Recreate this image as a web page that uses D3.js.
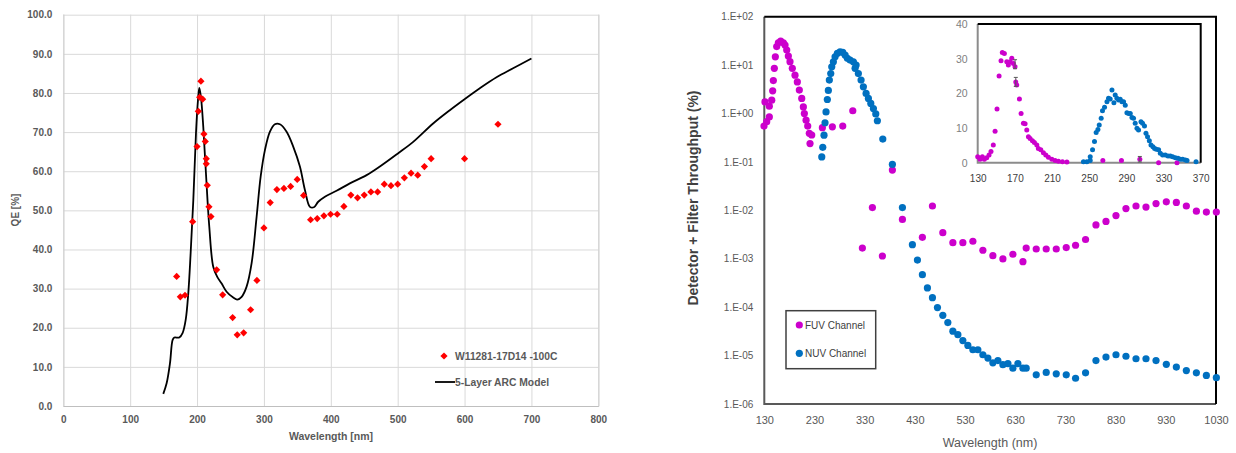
<!DOCTYPE html>
<html>
<head>
<meta charset="utf-8">
<script src="https://cdn.jsdelivr.net/npm/d3@7"></script>
<style>
  body { margin: 0; background: #fff; }
  svg { display: block; font-family: "Liberation Sans", Arial, sans-serif; }
</style>
</head>
<body>
<svg id="chart" width="1236" height="453"></svg>
<script>
// ---- left panel: QE vs wavelength ----
const qeTicksY = d3.range(0, 101, 10);
const qeTicksX = d3.range(0, 801, 100);

// measured points [wavelength nm, QE %]
const qeMeasured = [
  [169.5,33.1],[175,27.9],[182,28.3],[193.4,47.1],[200,66.3],[201.9,75.3],[203.9,78.9],
  [205.8,83.0],[208.4,78.4],[210.3,69.5],[212.3,67.6],[213.8,63.2],[213.8,61.9],[215.3,56.4],
  [217.8,50.9],[220.8,48.4],[229.3,34.8],[238.3,28.4],[253.2,22.6],[260.1,18.2],[269.7,18.7],
  [280.1,24.6],[289.5,32.1],[300,45.5],[309.4,52.0],[319.4,55.3],[329.9,55.6],[339.9,56.1],
  [349.8,57.9],[359.3,53.8],[369.8,47.6],[379.7,47.9],[389.7,48.6],[399.7,49.0],[409.6,49.0],
  [419.6,51.0],[430,53.9],[440,53.2],[450,53.9],[460,54.7],[470,54.7],[480,56.7],[490,56.3],
  [500,56.7],[510,58.3],[520,59.5],[530,59.0],[540,61.2],[550,63.2],[600,63.2],[650,72.0]
];

// 5-layer ARC model curve
const qeModel = [
  [149.5,3.1],[154.5,5.8],[159.5,10.9],[163.5,16.9],[166,17.5],[173.4,17.5],[178.5,18.7],
  [183,22],[186.9,28.8],[190.4,39],[194.4,52.6],[198.4,69.7],[201.4,78.2],[203.4,81.3],
  [205.8,79],[209.3,71.4],[213.3,59.5],[218.3,45.8],[224.2,35.6],[230.2,33],[236.8,31.3],
  [244.2,29.2],[254.1,27.7],[260.1,27.2],[266.7,27.9],[274.1,30.5],[281.6,36.5],[289.1,48.4],
  [295.1,58.6],[301.5,65.4],[309,70.1],[316.4,72],[323.9,72],[333.9,70.1],[343.8,66.3],
  [353.8,61.2],[361.3,55.2],[368.8,50.9],[374.7,50.8],[381.2,52.2],[391.2,53.5],[408.6,55],
  [428.5,56.9],[453.5,59],[473.4,61.2],[500.8,64.6],[523.2,67.5],[553,72.2],[578,75.6],
  [600,78.4],[622.9,81.2],[647.8,84],[672.6,86.3],[700,88.8]
];

const qeLegend = ["W11281-17D14 -100C", "5-Layer ARC Model"];

// ---- right panel: throughput (log) ----
const tpTicksY = [1e-6, 1e-5, 1e-4, 1e-3, 1e-2, 1e-1, 1, 10, 100];
const tpTicksX = d3.range(130, 1031, 100);

const fuvMain = [
  [129.4,0.55],[131.4,1.74],[134.8,0.68],[140,0.85],[140,1.42],[144.8,1.89],[146.7,2.95],
  [148,4.8],[150,8.6],[152,14.8],[154.7,24.1],[158,28.8],[162.7,31.5],[168,28.8],[171.3,25.9],
  [174.7,20.4],[177.9,15.4],[181.2,11.8],[185.8,8.6],[191.2,6.2],[195.8,4.5],[199.8,3.05],
  [204.6,2.05],[207.8,1.37],[209.8,1.0],[213.2,0.73],[216.5,0.55],[219.7,0.39],[221.1,0.24],
  [224.5,0.36],[245.7,0.51],[265.6,0.53],[286.3,0.55],[306.3,1.14],[325.4,0.00166],
  [345.4,0.0114],[365.3,0.00114],[385.2,0.068],[405.2,0.0065],[445,0.00277],[465,0.0123],
  [485.7,0.00346],[505.7,0.00215],[525.6,0.00215],[545.6,0.0023],[565.5,0.0015],[585.4,0.00116],
  [605.4,0.00099],[625.3,0.00124],[645.3,0.00087],[651.8,0.00166],[671.8,0.00159],[691.7,0.00159],
  [711.7,0.00159],[731.6,0.0017],[750.2,0.0019],[770.1,0.0025],[790.8,0.005],[810.8,0.0059],
  [830.7,0.0078],[850.6,0.0109],[870.6,0.0123],[890.5,0.0117],[910.5,0.0138],[931,0.015],
  [951,0.0146],[970.9,0.0123],[990.9,0.0096],[1010.8,0.0092],[1030.7,0.0092]
];

const nuvMain = [
  [244.5,0.127],[246.5,0.20],[249,0.357],[251,0.645],[253,1.08],[255.6,1.95],[257.6,3.0],
  [259.6,4.9],[262.4,6.7],[264.4,9.2],[267.6,11.7],[271,14.9],[275.6,17.5],[281,18.9],
  [286.3,18.3],[291,16.1],[295.5,13.8],[300.9,12.7],[307.5,11.7],[310.9,8.6],[312.9,10],
  [317.4,6.7],[322.8,4.9],[327.4,3.56],[332.8,2.6],[337.4,2.05],[342.2,1.62],[347.4,1.27],
  [352.1,0.98],[355.3,0.71],[366.1,0.296],[385.2,0.089],[405.2,0.0114],[425.1,0.00195],
  [435.1,0.00094],[445,0.00047],[455,0.00025],[465,0.000157],[475,9.8e-5],[485.7,6.8e-5],
  [495.7,4.8e-5],[505.7,3.2e-5],[515.7,2.7e-5],[525.6,2.04e-5],[535.6,1.62e-5],[545.6,1.32e-5],
  [555.5,1.32e-5],[565.5,1.04e-5],[575.5,8.9e-6],[585.4,7.1e-6],[595.4,7.9e-6],[605.4,6.5e-6],
  [615.4,6.8e-6],[625.3,5.5e-6],[635.3,6.8e-6],[645.3,5.5e-6],[651.8,5.5e-6],[671.8,4.0e-6],
  [691.7,4.5e-6],[711.7,4.2e-6],[731.6,4.0e-6],[750.2,3.4e-6],[770.1,4.4e-6],[790.8,7.9e-6],
  [810.8,9.3e-6],[830.7,1.04e-5],[850.6,9.7e-6],[870.6,8.6e-6],[890.5,8.6e-6],[910.5,7.9e-6],
  [931,6.6e-6],[951,5.8e-6],[970.9,4.9e-6],[990.9,4.4e-6],[1010.8,3.9e-6],[1030.7,3.5e-6]
];

// inset (linear)
const insetTicksY = [0, 10, 20, 30, 40];
const insetTicksX = d3.range(130, 371, 40);

const fuvInset = [
  [130,1.7],[132.5,1.0],[135,1.7],[137.1,1.0],[139.7,1.4],[142.2,2.2],[144.3,3.2],[146.8,5.1],
  [148.7,9.1],[150.8,15.5],[153,25],[155.1,29.4],[156.5,31.8],[158.7,31.5],[161.3,29.1],
  [163,28.2],[164.8,29.1],[166.7,30.1],[168.4,28.6],[170.2,27.7],[171,23.3],[172,22.4],
  [174.9,18.4],[176.7,14.2],[179.2,11.4],[181,11.2],[182.8,9.4],[184.6,7.5],[186.4,7.0],
  [188.9,6.3],[191,5.8],[193.6,5.1],[195.3,4.1],[197.9,3.7],[200.7,2.9],[203.3,2.2],
  [206.1,1.6],[209.8,1.0],[213.3,0.6],[216.9,0.4],[221.2,0.3],[226,0.2],[264.7,0.6],
  [284.7,0.6],[304.5,1.0],[324.7,0],[344.5,0]
];

const nuvInset = [
  [243.8,0.3],[247.5,0.3],[251.1,0.6],[251.1,1.7],[253.6,3.7],[255.7,6.1],[257.5,8.7],
  [259.4,9.6],[260.8,10.9],[262.9,12.8],[264.3,15.0],[266.5,16.0],[269.1,17.6],[270.8,18.6],
  [272.6,18.4],[274.5,21.0],[276.6,17.3],[278,19.5],[279.8,18.6],[281.6,18.1],[283.4,18.3],
  [285.2,17.6],[287,17.6],[288.8,16.6],[290.6,14.4],[292.4,14.2],[294.2,14.2],[296,13.0],
  [297.7,12.8],[299.5,11.4],[301.4,9.9],[303.1,9.4],[305.7,11.8],[307.4,11.4],[309.5,10.6],
  [311.1,8.5],[312.8,7.5],[314.7,6.3],[316.5,5.1],[318.6,4.6],[320.4,4.1],[322.2,3.9],
  [324.7,3.7],[326.5,2.7],[329,2.2],[331.9,2.2],[334.8,1.9],[337.3,1.9],[339.8,1.7],
  [342.7,1.4],[345.6,1.3],[348.1,1.0],[350.6,1.0],[353.5,0.8],[355.3,0.6],[365,0.3]
];

// [wavelength, value, half-height]
const insetErrors = [[170.2,28.4,1.3],[171,23.3,1.3],[304.5,1.0,0.8]];

const tpLegend = ["FUV Channel", "NUV Channel"];

const FUV = "#cc00cc", NUV = "#0070c0";
const svg = d3.select("#chart");

// ================= left panel =================
const xL = d3.scaleLinear().domain([0, 800]).range([63.3, 598.3]);
const yL = d3.scaleLinear().domain([0, 100]).range([406, 14.7]);

const left = svg.append("g");

left.append("g")
  .attr("transform", `translate(${xL(0)},0)`)
  .call(d3.axisLeft(yL).tickValues(qeTicksY).tickFormat(d3.format(".1f"))
    .tickSize(-(xL(800) - xL(0))).tickPadding(11))
  .call(g => g.select(".domain").remove())
  .call(g => g.selectAll("line").attr("stroke", "#d9d9d9"))
  .call(g => g.selectAll("text").attr("fill", "#595959")
    .attr("font-size", 10).attr("font-weight", "bold"));

left.append("g")
  .attr("transform", `translate(0,${yL(0)})`)
  .call(d3.axisBottom(xL).tickValues(qeTicksX).tickFormat(d3.format("d"))
    .tickSize(-(yL(0) - yL(100))).tickPadding(10))
  .call(g => g.select(".domain").attr("stroke", "#bfbfbf"))
  .call(g => g.selectAll("line").attr("stroke", "#d9d9d9"))
  .call(g => g.selectAll("text").attr("fill", "#595959")
    .attr("font-size", 10).attr("font-weight", "bold"));

left.append("text")
  .attr("transform", "translate(19,210) rotate(-90)")
  .attr("text-anchor", "middle")
  .attr("fill", "#595959").attr("font-size", 10).attr("font-weight", "bold")
  .text("QE [%]");

left.append("text")
  .attr("x", 331).attr("y", 440)
  .attr("text-anchor", "middle")
  .attr("fill", "#595959").attr("font-size", 10.5).attr("font-weight", "bold")
  .text("Wavelength [nm]");

const modelLine = d3.line()
  .x(d => xL(d[0])).y(d => yL(d[1]))
  .curve(d3.curveCatmullRom);

left.append("path")
  .datum(qeModel)
  .attr("d", modelLine)
  .attr("fill", "none")
  .attr("stroke", "#000")
  .attr("stroke-width", 1.8);

const diamond = d3.symbol().type(d3.symbolSquare).size(26);

left.append("g").selectAll("path")
  .data(qeMeasured)
  .join("path")
  .attr("d", diamond)
  .attr("transform", d => `translate(${xL(d[0])},${yL(d[1])}) rotate(45)`)
  .attr("fill", "#ff0000");

// legend
const lg = left.append("g");
lg.append("path").attr("d", diamond)
  .attr("transform", "translate(444,356) rotate(45)").attr("fill", "#ff0000");
lg.append("line").attr("x1", 435).attr("x2", 455).attr("y1", 382).attr("y2", 382)
  .attr("stroke", "#000").attr("stroke-width", 1.8);
lg.selectAll("text")
  .data(qeLegend)
  .join("text")
  .attr("x", 455)
  .attr("y", (d, i) => 359.5 + i * 26.5)
  .attr("fill", "#595959").attr("font-size", 10.3).attr("font-weight", "bold")
  .text(d => d);

// ================= right panel =================
const xR = d3.scaleLinear().domain([130, 1030]).range([764.3, 1216]);
const yR = d3.scaleLog().domain([1e-6, 100]).range([404, 16.7]);

function excelExp(v) {
  const e = Math.round(Math.log10(v));
  return "1.E" + (e < 0 ? "-" : "+") + String(Math.abs(e)).padStart(2, "0");
}

const right = svg.append("g");

right.append("g")
  .attr("transform", `translate(${xR(130)},0)`)
  .call(d3.axisLeft(yR).tickValues(tpTicksY).tickFormat(excelExp).tickSize(0).tickPadding(11))
  .call(g => g.select(".domain").remove())
  .call(g => g.selectAll("text").attr("fill", "#595959").attr("font-size", 10));

right.append("g")
  .attr("transform", `translate(0,${yR(1e-6)})`)
  .call(d3.axisBottom(xR).tickValues(tpTicksX).tickFormat(d3.format("d")).tickSize(0).tickPadding(12))
  .call(g => g.select(".domain").remove())
  .call(g => g.selectAll("text").attr("fill", "#595959").attr("font-size", 11));

// frame: dark left/bottom, black top/right
right.append("path")
  .attr("d", `M${xR(130)},${yR(100)}V${yR(1e-6)}H${xR(1030)}`)
  .attr("fill", "none").attr("stroke", "#595959").attr("stroke-width", 2);
right.append("path")
  .attr("d", `M${xR(130)},${yR(100)}H${xR(1030)}V${yR(1e-6)}`)
  .attr("fill", "none").attr("stroke", "#000").attr("stroke-width", 2);

right.append("text")
  .attr("transform", "translate(698,198) rotate(-90)")
  .attr("text-anchor", "middle")
  .attr("fill", "#404040").attr("font-size", 14).attr("font-weight", "bold")
  .text("Detector + Filter Throughput (%)");

right.append("text")
  .attr("x", 990).attr("y", 447)
  .attr("text-anchor", "middle")
  .attr("fill", "#595959").attr("font-size", 12.5)
  .text("Wavelength (nm)");

right.append("g").selectAll("circle")
  .data(fuvMain)
  .join("circle")
  .attr("cx", d => xR(d[0])).attr("cy", d => yR(d[1]))
  .attr("r", 3.6).attr("fill", FUV);

right.append("g").selectAll("circle")
  .data(nuvMain)
  .join("circle")
  .attr("cx", d => xR(d[0])).attr("cy", d => yR(d[1]))
  .attr("r", 3.6).attr("fill", NUV);

// legend box
const rl = right.append("g");
rl.append("rect").attr("x", 786).attr("y", 310.7).attr("width", 89.7).attr("height", 58)
  .attr("fill", "#fff").attr("stroke", "#404040").attr("stroke-width", 1.5);
rl.selectAll("circle")
  .data(tpLegend)
  .join("circle")
  .attr("cx", 799.3).attr("cy", (d, i) => 325 + i * 28.3)
  .attr("r", 3.6).attr("fill", (d, i) => i === 0 ? FUV : NUV);
rl.selectAll("text")
  .data(tpLegend)
  .join("text")
  .attr("x", 805).attr("y", (d, i) => 328.5 + i * 28.3)
  .attr("fill", "#404040").attr("font-size", 10)
  .text(d => d);

// ================= inset =================
const xI = d3.scaleLinear().domain([130, 370]).range([977.7, 1200.7]);
const yI = d3.scaleLinear().domain([0, 40]).range([162.7, 24]);

const inset = svg.append("g");

inset.append("g")
  .attr("transform", `translate(${xI(130)},0)`)
  .call(d3.axisLeft(yI).tickValues(insetTicksY).tickSize(0).tickPadding(10))
  .call(g => g.select(".domain").remove())
  .call(g => g.selectAll("text").attr("fill", "#808080").attr("font-size", 10.5));

inset.append("g")
  .attr("transform", `translate(0,${yI(0)})`)
  .call(d3.axisBottom(xI).tickValues(insetTicksX).tickSize(0).tickPadding(12))
  .call(g => g.select(".domain").remove())
  .call(g => g.selectAll("text").attr("fill", "#404040").attr("font-size", 10));

inset.append("path")
  .attr("d", `M${xI(130)},${yI(40)}V${yI(0)}H${xI(370)}`)
  .attr("fill", "none").attr("stroke", "#8c8c8c").attr("stroke-width", 2);
inset.append("path")
  .attr("d", `M${xI(130)},${yI(40)}H${xI(370)}V${yI(0)}`)
  .attr("fill", "none").attr("stroke", "#000").attr("stroke-width", 2);

inset.append("g").selectAll("circle")
  .data(fuvInset)
  .join("circle")
  .attr("cx", d => xI(d[0])).attr("cy", d => yI(d[1]))
  .attr("r", 2.5).attr("fill", FUV);

inset.append("g").selectAll("circle")
  .data(nuvInset)
  .join("circle")
  .attr("cx", d => xI(d[0])).attr("cy", d => yI(d[1]))
  .attr("r", 2.5).attr("fill", NUV);

// small error bars
inset.append("g").selectAll("path")
  .data(insetErrors)
  .join("path")
  .attr("d", d => {
    const x = xI(d[0]), y0 = yI(d[1] - d[2]), y1 = yI(d[1] + d[2]);
    return `M${x - 2},${y0}H${x + 2}M${x},${y0}V${y1}M${x - 2},${y1}H${x + 2}`;
  })
  .attr("fill", "none").attr("stroke", "#595959").attr("stroke-width", 1);
</script>
</body>
</html>
